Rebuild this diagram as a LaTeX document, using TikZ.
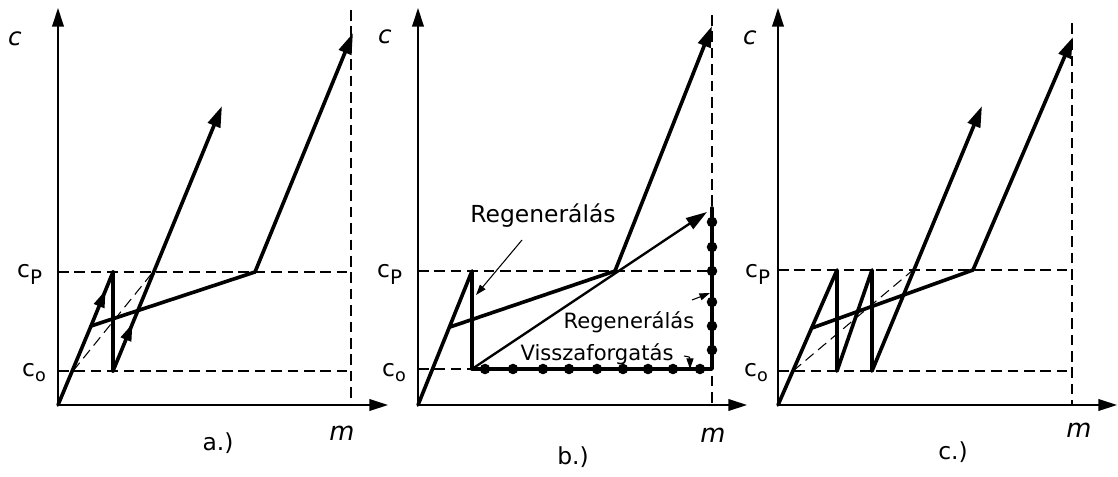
\documentclass[tikz,border=0pt]{standalone}
\usepackage{fontspec}
\setmainfont{DejaVu Sans}
\usetikzlibrary{arrows.meta,decorations.markings}

\begin{document}
\begin{tikzpicture}[x=0.03cm, y=-0.03cm,
    axis/.style={line width=1.5pt, -{Triangle[length=16pt,width=10pt]}},
    guide/.style={line width=0.9pt, dash pattern=on 9pt off 5pt},
    thickline/.style={line width=3.1pt, line cap=round, line join=round},
    thinline/.style={line width=2pt, line cap=round},
    endtip/.style={-{Triangle[length=18pt,width=11pt]}},
    midarrow/.style={postaction=decorate, decoration={markings,
        mark=at position #1 with {\arrow{Triangle[length=15pt,width=9pt]}}}},
    dot/.style={circle, fill, inner sep=0pt, minimum size=9pt},
    lbl/.style={font=\fontsize{20}{20}\selectfont, inner sep=0pt},
    note/.style={font=\fontsize{18}{18}\selectfont, inner sep=0pt},
    pointer/.style={line width=0.9pt, -{Triangle[length=9pt,width=6pt]}}]
  \useasboundingbox (0,0) rectangle (1118,477);

  % a.)
  \coordinate (aO) at (58,405);
  \coordinate (aY) at (58,8);
  \coordinate (aX) at (388,405);
  \coordinate (a1) at (91,326);
  \coordinate (a2) at (113,272);
  \coordinate (a3) at (113,371);
  \coordinate (a4) at (222,106);
  \coordinate (a5) at (255,272);
  \coordinate (a6) at (353,33);
  \draw[guide] (351,10) -- (351,405);
  \draw[guide] (58,272) -- (351,272);
  \draw[guide] (58,371) -- (351,371);
  \draw[guide] (73,371) -- (153,272);
  \draw[axis] (aO) -- (aY);
  \draw[axis] (aO) -- (aX);
  \draw[thickline] (aO) -- (a1);
  \draw[thickline, midarrow=0.67] (a1) -- (a2);
  \draw[thickline] (a2) -- (a3);
  \draw[thickline, midarrow=0.18, endtip] (a3) -- (a4);
  \draw[thickline, endtip] (a1) -- (a5) -- (a6);
  \node[lbl, font=\fontsize{21}{21}\selectfont\itshape, anchor=base] (aC) at (15,45) {c};
  \node[lbl, anchor=base west] (aCP) at (17,277) {c\raisebox{-6.8pt}{\fontsize{17}{17}\selectfont P}};
  \node[lbl, anchor=base west] (aCO) at (22,376) {c\raisebox{-5pt}{\fontsize{15}{15}\selectfont o}};
  \node[lbl, font=\fontsize{22}{22}\selectfont\itshape] (aM) at (342,433) {m};
  \node[lbl] (aT) at (218,443) {a.)};

  % b.)
  \coordinate (bO) at (418,405);
  \coordinate (bY) at (418,8);
  \coordinate (bX) at (747,405);
  \coordinate (b1) at (450,327);
  \coordinate (b2) at (472,271);
  \coordinate (b3) at (472,369);
  \coordinate (b4) at (615,271);
  \coordinate (b5) at (712,26);
  \coordinate (b6) at (707,212);
  \coordinate (bR) at (712,369);
  \coordinate (bQ) at (712,208);
  \draw[guide] (712,15) -- (712,405);
  \draw[guide] (418,271) -- (712,271);
  \draw[guide] (418,369) -- (472,369);
  \draw[axis] (bO) -- (bY);
  \draw[axis] (bO) -- (bX);
  \draw[thickline] (bO) -- (b2) -- (b3);
  \draw[thickline, endtip] (b1) -- (b4) -- (b5);
  \draw[thinline, endtip] (b3) -- (b6);
  \draw[thickline] (b3) -- (bR) -- (bQ);
  \foreach \x in {485,513,543,569,597,623,648,673,700}
    \node[dot] at (\x,369) {};
  \foreach \y in {222,247,271,302,326,350}
    \node[dot] at (712,\y) {};
  \node[lbl, font=\fontsize{21}{21}\selectfont\itshape, anchor=base] (bC) at (385,43) {c};
  \node[lbl, anchor=base west] (bCP) at (377,277) {c\raisebox{-6.8pt}{\fontsize{17}{17}\selectfont P}};
  \node[lbl, anchor=base west] (bCO) at (382,376) {c\raisebox{-5pt}{\fontsize{15}{15}\selectfont o}};
  \node[lbl, font=\fontsize{22}{22}\selectfont\itshape] (bM) at (713,435) {m};
  \node[lbl] (bT) at (573,457) {b.)};
  \node[lbl, anchor=base] (regA) at (543,222) {Regenerálás};
  \node[note, anchor=base] (regB) at (629,328) {Regenerálás};
  \node[note, anchor=base] (vissza) at (597,360) {Visszaforgatás};
  \coordinate (regAend) at (476,295);
  \coordinate (regBend) at (710,293);
  \coordinate (visszaend) at (690,369);
  \draw[pointer] (522,240) -- (regAend);
  \draw[pointer] (692,300) -- (regBend);
  \draw[pointer] (684,356) .. controls (690,357) .. (visszaend);

  % c.)
  \coordinate (cO) at (778,405);
  \coordinate (cY) at (778,8);
  \coordinate (cX) at (1117,405);
  \coordinate (c1) at (812,328);
  \coordinate (c2) at (837,270);
  \coordinate (c3) at (837,371);
  \coordinate (c4) at (872,270);
  \coordinate (c5) at (872,371);
  \coordinate (c6) at (982,106);
  \coordinate (c7) at (973,270);
  \coordinate (c8) at (1073,37);
  \draw[guide] (1072,23) -- (1072,405);
  \draw[guide] (778,270) -- (1072,270);
  \draw[guide] (778,371) -- (1072,371);
  \draw[guide] (793,371) -- (913,270);
  \draw[axis] (cO) -- (cY);
  \draw[axis] (cO) -- (cX);
  \draw[thickline, endtip] (cO) -- (c2) -- (c3) -- (c4) -- (c5) -- (c6);
  \draw[thickline, endtip] (c1) -- (c7) -- (c8);
  \node[lbl, font=\fontsize{21}{21}\selectfont\itshape, anchor=base] (cC) at (750,44) {c};
  \node[lbl, anchor=base west] (cCP) at (745,277) {c\raisebox{-6.8pt}{\fontsize{17}{17}\selectfont P}};
  \node[lbl, anchor=base west] (cCO) at (744,376) {c\raisebox{-5pt}{\fontsize{15}{15}\selectfont o}};
  \node[lbl, font=\fontsize{22}{22}\selectfont\itshape] (cM) at (1079,430) {m};
  \node[lbl] (cT) at (953,452) {c.)};
\end{tikzpicture}
\end{document}
